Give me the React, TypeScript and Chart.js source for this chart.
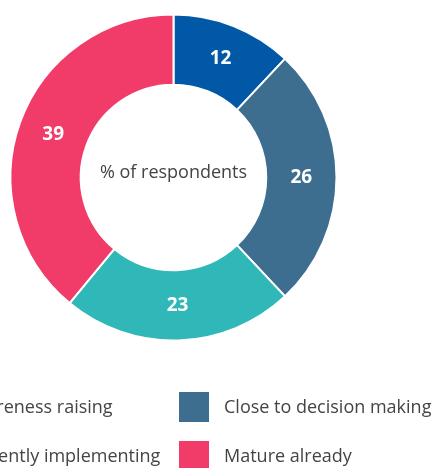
import React, { useEffect, useRef } from "react";
import { Chart, registerables } from "chart.js";

Chart.register(...registerables);

const categories = [
  "Awareness raising",
  "Close to decision making",
  "Currently implementing",
  "Mature already",
];
const values = [12, 26, 23, 39];
const colors = ["#0058a6", "#3e6e8f", "#30b8b8", "#f13b69"];
const centerLabel = "% of respondents";

const FONT = "'Open Sans', 'Noto Sans', sans-serif";
const SHIFT = 100; // canvas extends this far left of the page

const sliceLabels = {
  id: "sliceLabels",
  afterDatasetsDraw(chart: any) {
    const ctx = chart.ctx;
    const meta = chart.getDatasetMeta(0);
    ctx.save();
    ctx.fillStyle = "#ffffff";
    ctx.font = `bold 19px ${FONT}`;
    ctx.textAlign = "center";
    ctx.textBaseline = "middle";
    meta.data.forEach((arc: any, i: number) => {
      const p = arc.tooltipPosition();
      ctx.fillText(String(chart.data.datasets[0].data[i]), p.x, p.y);
    });
    ctx.restore();
  },
};

const centerText = {
  id: "centerText",
  afterDraw(chart: any) {
    const ctx = chart.ctx;
    const a = chart.chartArea;
    ctx.save();
    ctx.fillStyle = "#444444";
    ctx.font = `18px ${FONT}`;
    ctx.textAlign = "center";
    ctx.textBaseline = "middle";
    ctx.fillText(centerLabel, (a.left + a.right) / 2, (a.top + a.bottom) / 2 - 5);
    ctx.restore();
  },
};

const gridLegend = {
  id: "gridLegend",
  afterDraw(chart: any) {
    const ctx = chart.ctx;
    const labels = chart.data.labels as string[];
    const bg = chart.data.datasets[0].backgroundColor as string[];
    const col2X = 179 + SHIFT;
    const colW = 263;
    const row1Y = 392;
    const rowH = 49;
    const box = 30;
    ctx.save();
    ctx.font = `18px ${FONT}`;
    ctx.textBaseline = "middle";
    ctx.textAlign = "left";
    labels.forEach((lab, i) => {
      const col = i % 2;
      const row = Math.floor(i / 2);
      const x = col2X - (1 - col) * colW;
      const y = row1Y + row * rowH;
      ctx.fillStyle = bg[i];
      ctx.fillRect(x, y, box, box);
      ctx.fillStyle = "#444444";
      ctx.fillText(lab, x + box + 15, y + box / 2 + 1);
    });
    ctx.restore();
  },
};

export default function App() {
  const ref = useRef<HTMLCanvasElement | null>(null);
  useEffect(() => {
    if (!ref.current) return;
    const chart = new Chart(ref.current, {
      type: "doughnut",
      data: {
        labels: categories,
        datasets: [
          {
            data: values,
            backgroundColor: colors,
            borderColor: "#ffffff",
            borderWidth: 2,
          },
        ],
      },
      options: {
        animation: false,
        responsive: true,
        maintainAspectRatio: false,
        radius: 163,
        cutout: "56.9%",
        layout: { padding: { left: 12, right: 0, top: 14, bottom: 127 } },
        plugins: {
          legend: { display: false },
          tooltip: { enabled: false },
        },
      },
      plugins: [sliceLabels, centerText, gridLegend],
    });
    return () => chart.destroy();
  }, []);
  return (
    <div
      style={{
        position: "fixed",
        left: -SHIFT,
        top: 0,
        width: 435 + SHIFT,
        height: 468,
        background: "#ffffff",
      }}
    >
      <canvas ref={ref} />
    </div>
  );
}
